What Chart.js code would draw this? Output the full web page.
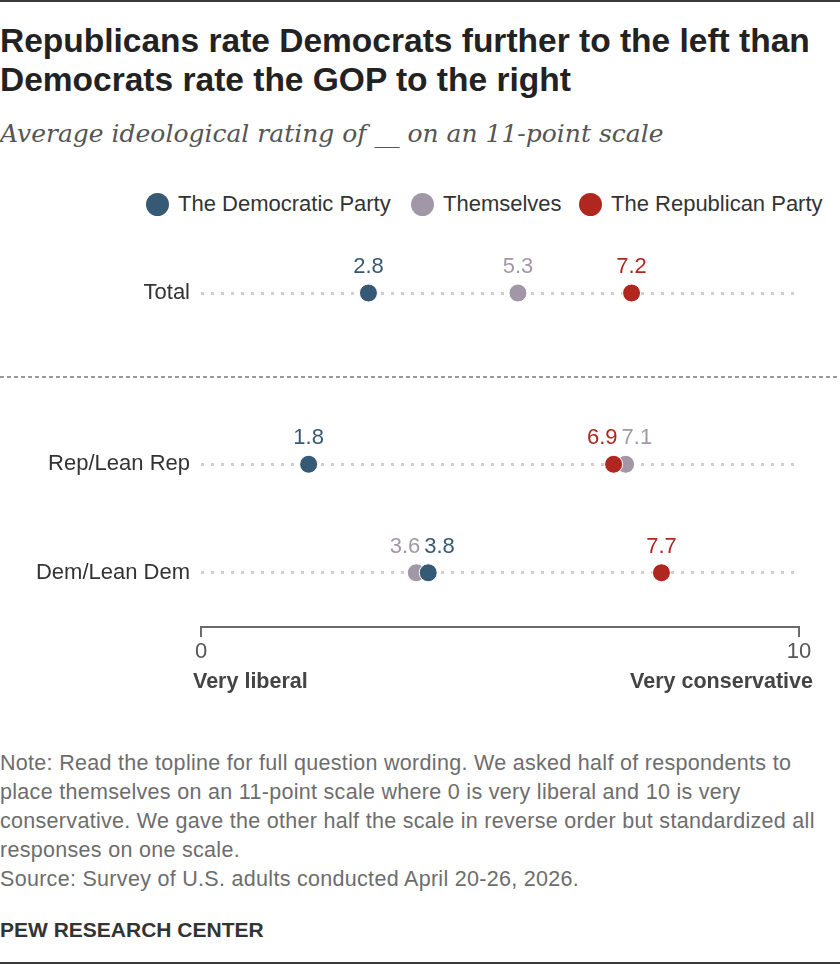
<!DOCTYPE html>
<html>
<head>
<meta charset="utf-8">
<script src="https://cdn.jsdelivr.net/npm/chart.js@4.4.1/dist/chart.umd.min.js"></script>
<style>
  body { margin: 0; background: #fff; font-family: "Liberation Sans", Arial, sans-serif; }
  #page { position: relative; width: 840px; height: 964px; overflow: hidden; }
  .abs { position: absolute; white-space: nowrap; }
  #topbar { position: absolute; left: 0; top: 0; width: 840px; height: 2px; background: #3a3a3a; }
  #botbar { position: absolute; left: 0; bottom: 0; width: 840px; height: 2px; background: #3a3a3a; }
  #title { left: 0; top: 21px; font-weight: bold; font-size: 33.5px; line-height: 39px; color: #222; }
  #subtitle { left: 0; top: 119px; font-family: "DejaVu Serif", serif; font-style: italic; font-size: 25px; color: #555; }
  .legend-item { position: absolute; top: 191px; height: 26px; display: flex; align-items: center; font-size: 22px; color: #333; }
  .legend-item .dot { width: 23px; height: 23px; border-radius: 50%; margin-right: 9px; }
  #sep { position: absolute; left: 0; top: 376px; width: 840px; height: 2px;
         background: repeating-linear-gradient(to right, #999 0 4px, transparent 4px 7px); }
  .endlabel { top: 669px; font-weight: bold; font-size: 21.5px; color: #444; }
  #note { left: 0; top: 749px; font-size: 21.5px; line-height: 29px; color: #6d6d6d; letter-spacing: 0.3px; }
  #brand { left: 0; top: 918px; font-size: 21px; font-weight: bold; color: #333; }
  canvas { position: absolute; left: 0; }
</style>
</head>
<body>
<div id="page">
  <div id="topbar"></div>
  <div id="title" class="abs">Republicans rate Democrats further to the left than<br>Democrats rate the GOP to the right</div>
  <div id="subtitle" class="abs">Average ideological rating of __ on an 11-point scale</div>

  <div class="legend-item" style="left:146px"><span class="dot" style="background:#365a75"></span>The Democratic Party</div>
  <div class="legend-item" style="left:411px"><span class="dot" style="background:#a297a7"></span>Themselves</div>
  <div class="legend-item" style="left:579px"><span class="dot" style="background:#b0271f"></span>The Republican Party</div>

  <div style="position:absolute; top:238px; width:840px; height:110px"><canvas id="totalChart"></canvas></div>
  <div id="sep"></div>
  <div style="position:absolute; top:400px; width:840px; height:280px"><canvas id="partyChart"></canvas></div>

  <div class="abs endlabel" style="left:193px">Very liberal</div>
  <div class="abs endlabel" style="right:27px">Very conservative</div>

  <div id="note" class="abs">Note: Read the topline for full question wording. We asked half of respondents to<br>place themselves on an 11-point scale where 0 is very liberal and 10 is very<br>conservative. We gave the other half the scale in reverse order but standardized all<br>responses on one scale.<br>Source: Survey of U.S. adults conducted April 20-26, 2026.</div>
  <div id="brand" class="abs">PEW RESEARCH CENTER</div>
  <div id="botbar"></div>
</div>

<script>
// Rows and values (0 = very liberal, 10 = very conservative)
const groups = ['Total', 'Rep/Lean Rep', 'Dem/Lean Dem'];
const demParty = [2.8, 1.8, 3.8];
const themselves = [5.3, 7.1, 3.6];
const repParty = [7.2, 6.9, 7.7];
const axisTicks = [0, 10];

const BLUE = '#365a75';
const GRAY = '#a297a7';
const RED = '#b0271f';
const FONT = '"Liberation Sans", Arial, sans-serif';

// value labels above the dots; close neighbours get pushed apart
const valueLabels = {
    id: 'valueLabels',
    afterDatasetsDraw(chart) {
        const ctx = chart.ctx;
        const xs = chart.scales.x;
        ctx.save();
        ctx.font = '22px ' + FONT;
        ctx.textBaseline = 'middle';
        chart.data.datasets.forEach((ds, di) => {
            const meta = chart.getDatasetMeta(di);
            meta.data.forEach((pt, i) => {
                const v = ds.data[i].x;
                let align = 'center';
                let x = pt.x;
                chart.data.datasets.forEach((other, oi) => {
                    if (oi === di) return;
                    const ov = other.data[i].x;
                    if (Math.abs(ov - v) < 0.4) {
                        const mid = xs.getPixelForValue((ov + v) / 2);
                        if (v < ov) { align = 'right'; x = mid - 2; }
                        else { align = 'left'; x = mid + 2; }
                    }
                });
                ctx.textAlign = align;
                ctx.fillStyle = ds.backgroundColor;
                ctx.fillText(v.toFixed(1), x, pt.y - 26);
            });
        });
        ctx.restore();
    }
};

function makeDatasets(rows) {
    // themselves last so it is drawn underneath the party dots
    const series = [
        { label: 'The Democratic Party', values: demParty, color: BLUE },
        { label: 'The Republican Party', values: repParty, color: RED },
        { label: 'Themselves', values: themselves, color: GRAY }
    ];
    return series.map(s => ({
        label: s.label,
        data: rows.map(r => ({ x: s.values[r], y: groups[r] })),
        backgroundColor: s.color,
        borderColor: '#ffffff',
        borderWidth: 1,
        pointRadius: 9,
        pointHoverRadius: 9
    }));
}

function makeChart(canvasId, rows, showX) {
    const labels = rows.map(r => groups[r]);
    return new Chart(document.getElementById(canvasId), {
        type: 'scatter',
        data: { datasets: makeDatasets(rows) },
        plugins: [valueLabels],
        options: {
            responsive: true,
            maintainAspectRatio: false,
            animation: false,
            layout: { padding: showX ? { top: 7, bottom: 13, left: 0, right: 41 } : { top: 0, bottom: 0, left: 0, right: 41 } },
            plugins: { legend: { display: false }, tooltip: { enabled: false } },
            scales: {
                x: {
                    type: 'linear',
                    min: 0,
                    max: 10,
                    display: showX,
                    afterBuildTicks: axis => { axis.ticks = axisTicks.map(v => ({ value: v })); },
                    afterFit: axis => { if (showX) axis.height = 40; },
                    border: { display: true, color: '#6b6b6b', width: 2 },
                    grid: { drawOnChartArea: false, drawTicks: true, tickLength: 10, color: '#6b6b6b', lineWidth: 2 },
                    ticks: { color: '#555', padding: 2, maxRotation: 0, font: { size: 22, family: FONT } }
                },
                y: {
                    type: 'category',
                    labels: labels,
                    offset: true,
                    afterFit: axis => { axis.width = 201; axis.paddingTop = 0; axis.paddingBottom = 0; },
                    // dotted row guides
                    border: { display: false, dash: [3, 7] },
                    grid: { offset: false, drawTicks: false, color: '#cfcfcf', lineWidth: 3 },
                    ticks: { color: '#333', padding: 11, font: { size: 22, family: FONT } }
                }
            }
        }
    });
}

makeChart('totalChart', [0], false);
makeChart('partyChart', [1, 2], true);
</script>
</body>
</html>
